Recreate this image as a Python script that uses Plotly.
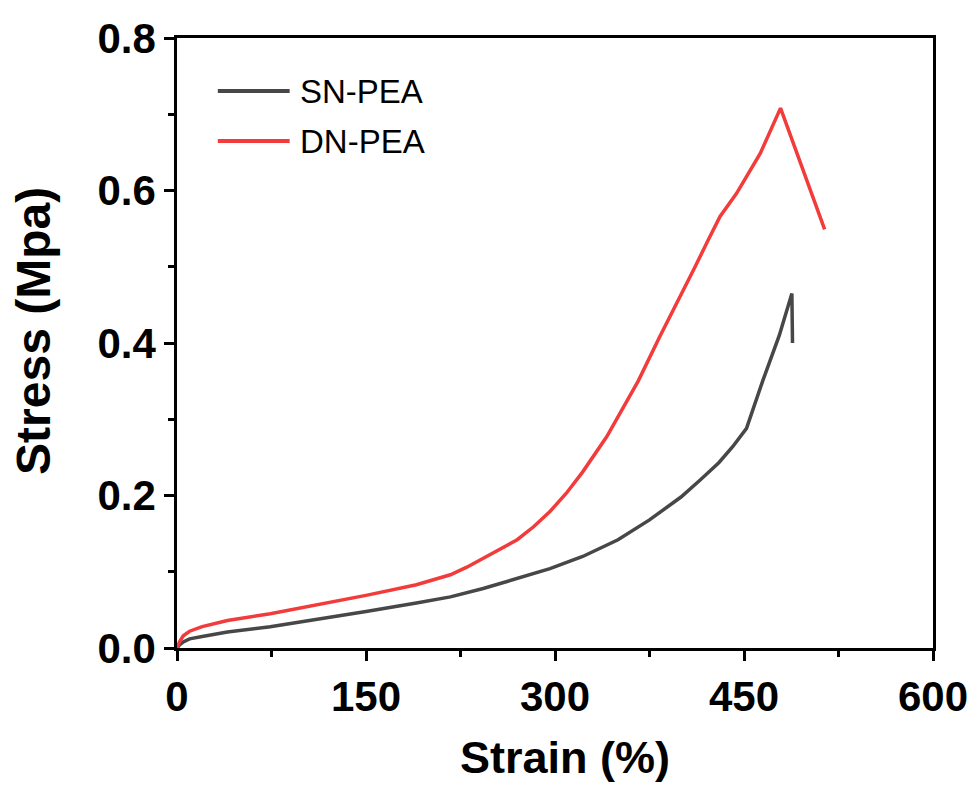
import plotly.graph_objects as go

# SN-PEA (black)
sn_strain = [0, 2, 5, 10, 20, 40, 74, 110, 150, 190, 217, 243, 270, 296, 322, 350, 375, 400, 415, 430, 441, 452, 465, 478, 488, 488.5]
sn_stress = [0, 0.004, 0.008, 0.012, 0.015, 0.021, 0.028, 0.037, 0.048, 0.059, 0.067, 0.078, 0.091, 0.104, 0.120, 0.142, 0.168, 0.198, 0.220, 0.243, 0.264, 0.288, 0.351, 0.410, 0.465, 0.400]

# DN-PEA (red)
dn_strain = [0, 2, 5, 10, 20, 40, 74, 110, 150, 190, 217, 230, 243, 256, 270, 283, 296, 309, 322, 341, 354, 366, 383, 397, 410, 421, 431, 444, 463, 479, 514]
dn_stress = [0, 0.008, 0.016, 0.022, 0.028, 0.036, 0.045, 0.056, 0.069, 0.083, 0.096, 0.106, 0.118, 0.129, 0.142, 0.159, 0.179, 0.203, 0.231, 0.277, 0.314, 0.350, 0.408, 0.453, 0.496, 0.533, 0.566, 0.596, 0.649, 0.708, 0.549]

x_ticks = [0, 150, 300, 450, 600]
y_ticks = [0.0, 0.2, 0.4, 0.6, 0.8]
y_tick_labels = ["0.0", "0.2", "0.4", "0.6", "0.8"]

SN_COLOR = "#474747"
DN_COLOR = "#f23b3b"
FONT = "Arial, Liberation Sans, sans-serif"

fig = go.Figure()
fig.add_trace(go.Scatter(x=sn_strain, y=sn_stress, mode="lines", name="SN-PEA",
                         line=dict(color=SN_COLOR, width=3.5), showlegend=False))
fig.add_trace(go.Scatter(x=dn_strain, y=dn_stress, mode="lines", name="DN-PEA",
                         line=dict(color=DN_COLOR, width=3.5), showlegend=False))

# manual legend (long line samples as in reference)
legend_items = [("SN-PEA", SN_COLOR, 0.913), ("DN-PEA", DN_COLOR, 0.831)]
for label, color, yy in legend_items:
    fig.add_shape(type="line", xref="paper", yref="paper", x0=0.054, x1=0.149, y0=yy, y1=yy,
                  line=dict(color=color, width=4))
    fig.add_annotation(xref="paper", yref="paper", x=0.160, y=yy, text=label, showarrow=False,
                       xanchor="left", yanchor="middle",
                       font=dict(family=FONT, size=33, color="black"))

# axis titles
fig.add_annotation(xref="paper", yref="paper", x=-0.189, y=0.52, text="Stress (Mpa)",
                   textangle=-90, showarrow=False, xanchor="center", yanchor="middle",
                   font=dict(family=FONT, size=48, color="black", weight="bold"))
fig.add_annotation(xref="paper", yref="paper", x=0.513, y=-0.1803, text="Strain (%)",
                   showarrow=False, xanchor="center", yanchor="middle",
                   font=dict(family=FONT, size=45, color="black", weight="bold"))

axis_common = dict(
    showline=True, linecolor="black", linewidth=2.5, mirror=True,
    ticks="outside", ticklen=10, tickwidth=2.5, tickcolor="black",
    showgrid=False, zeroline=False, automargin=False, ticklabeloverflow="allow",
    tickfont=dict(family=FONT, size=42, color="black", weight="bold"),
)

fig.update_xaxes(range=[0, 600], tickvals=x_ticks,
                 minor=dict(ticks="outside", ticklen=6, tickwidth=2.5, tickcolor="black", showgrid=False, dtick=75, tick0=0),
                 **axis_common)
fig.update_yaxes(range=[0, 0.8], tickvals=y_ticks, ticktext=y_tick_labels,
                 minor=dict(ticks="outside", ticklen=6, tickwidth=2.5, tickcolor="black", showgrid=False, dtick=0.1, tick0=0),
                 **axis_common)

fig.update_layout(
    width=960, height=779,
    margin=dict(l=169, r=35, t=30, b=139),
    plot_bgcolor="white", paper_bgcolor="white",
)

fig.write_html("out.html")
